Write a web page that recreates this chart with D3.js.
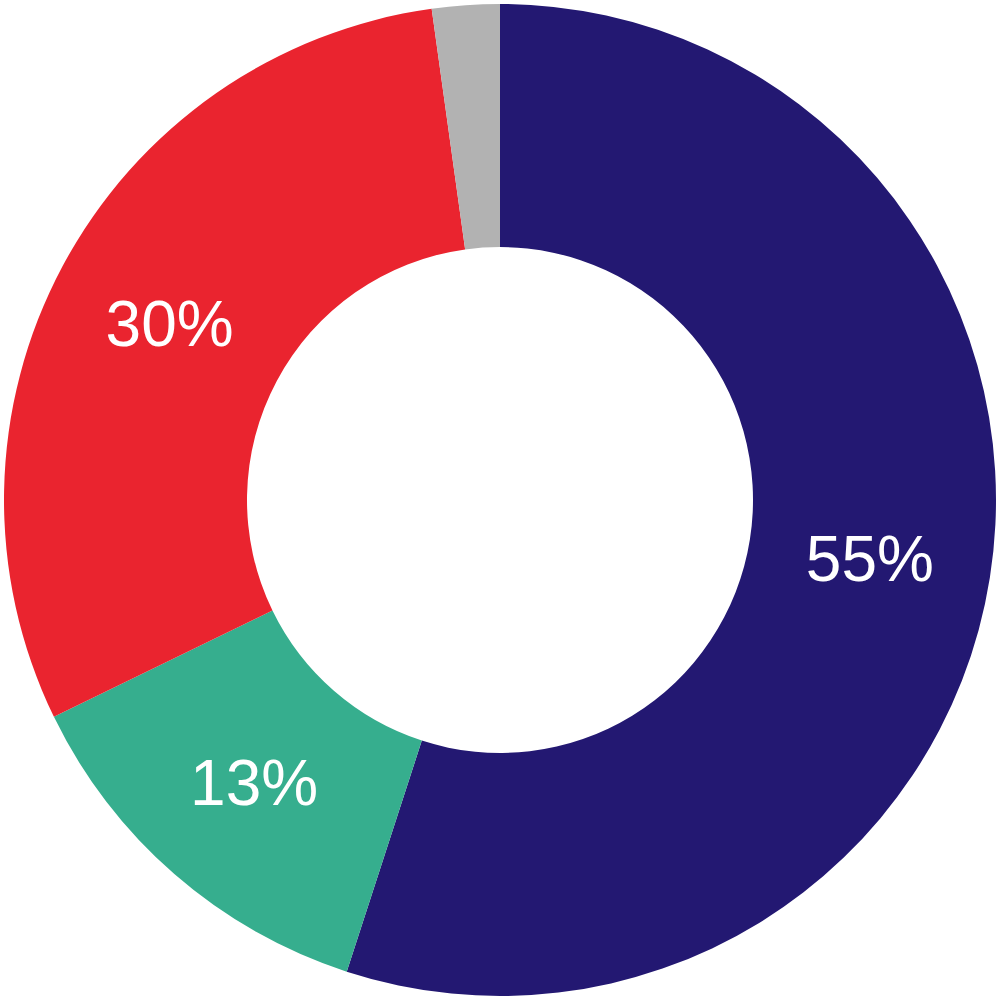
<!DOCTYPE html>
<html>
<head>
<meta charset="utf-8">
<script src="https://cdn.jsdelivr.net/npm/d3@7"></script>
<style>
  html, body { margin: 0; padding: 0; background: #fff; }
  svg { display: block; }
</style>
</head>
<body>
<div id="container"></div>
<script>
const width = 1000, height = 1000;
const outerRadius = 496, innerRadius = 253;

// slices clockwise from 12 o'clock
const categories = ['navy', 'green', 'red', 'grey'];
const values = [55, 12.8, 30, 2.2];
const labels = ['55%', '13%', '30%', ''];
const colors = ['#231872', '#36AE8E', '#EA242F', '#B2B2B2'];

const data = categories.map((c, i) => ({ cat: c, value: values[i], label: labels[i] }));

const svg = d3.select('#container').append('svg')
    .attr('width', width)
    .attr('height', height)
  .append('g')
    .attr('transform', `translate(${width / 2}, ${height / 2})`);

const color = d3.scaleOrdinal(categories, colors);

const pie = d3.pie()
    .value(d => d.value)
    .sort(null);

const arc = d3.arc()
    .innerRadius(innerRadius)
    .outerRadius(outerRadius);

const arcs = pie(data);

svg.selectAll('path')
    .data(arcs)
    .join('path')
    .attr('d', arc)
    .attr('fill', d => color(d.data.cat));

svg.selectAll('text')
    .data(arcs.filter(d => d.data.label))
    .join('text')
    .attr('transform', d => `translate(${arc.centroid(d)})`)
    .attr('text-anchor', 'middle')
    .attr('dy', '0.35em')
    .style('font-family', '"Liberation Sans", Arial, Helvetica, sans-serif')
    .style('font-size', '64px')
    .style('fill', '#fff')
    .text(d => d.data.label);
</script>
</body>
</html>
